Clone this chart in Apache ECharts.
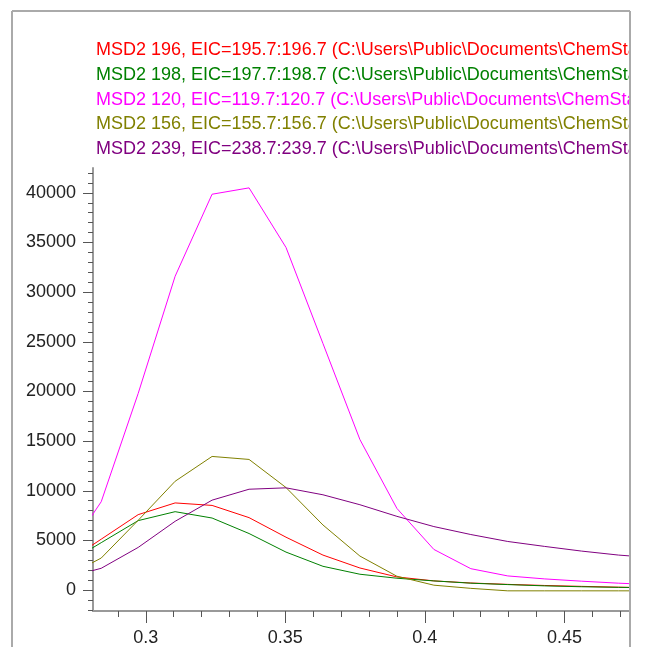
<!DOCTYPE html>
<html>
<head>
<meta charset="utf-8">
<script src="https://cdn.jsdelivr.net/npm/echarts@6/dist/echarts.min.js"></script>
<style>
html,body{margin:0;padding:0;background:#fff;}
#chart{width:646px;height:647px;}
</style>
</head>
<body>
<div id="chart"></div>
<script>
// Retention times (min) of the scans
var times = [0.27079, 0.28404, 0.29728, 0.31052, 0.32376, 0.33701, 0.35025, 0.36349, 0.37673,
             0.38998, 0.40322, 0.41646, 0.42970, 0.44295, 0.45619, 0.46943, 0.48268];

var names = [
  "MSD2 196, EIC=195.7:196.7 (C:\\Users\\Public\\Documents\\ChemStation",
  "MSD2 198, EIC=197.7:198.7 (C:\\Users\\Public\\Documents\\ChemStation",
  "MSD2 120, EIC=119.7:120.7 (C:\\Users\\Public\\Documents\\ChemStation",
  "MSD2 156, EIC=155.7:156.7 (C:\\Users\\Public\\Documents\\ChemStation",
  "MSD2 239, EIC=238.7:239.7 (C:\\Users\\Public\\Documents\\ChemStation"
];
var colors = ["#ff0000", "#008000", "#ff00ff", "#808000", "#800080"];

var eic196 = [2660, 5130, 7600, 8780, 8530, 7300, 5330, 3530, 2230, 1330, 930, 720, 580, 470, 380, 300, 240];
var eic198 = [2550, 4780, 7000, 7900, 7260, 5700, 3830, 2400, 1600, 1200, 930, 700, 560, 430, 340, 280, 230];
var eic120 = [3370, 8900, 19800, 31600, 39860, 40500, 34500, 24830, 15160, 8230, 4100, 2160, 1430, 1130, 900, 700, 550];
var eic156 = [1270, 3230, 7030, 10960, 13460, 13160, 10330, 6560, 3430, 1400, 500, 180, -70, -70, -70, -70, -70];
var eic239 = [1200, 2200, 4300, 6930, 9060, 10160, 10300, 9600, 8600, 7430, 6400, 5600, 4900, 4400, 3930, 3530, 3250];
var seriesValues = [eic196, eic198, eic120, eic156, eic239];

var yMajor = [0, 5000, 10000, 15000, 20000, 25000, 30000, 35000, 40000];
var yMinor = [];
for (var v = -2000; v <= 42000; v += 1000) yMinor.push(v);
var xMajor = [0.3, 0.35, 0.4, 0.45];
var xMinor = [0.29, 0.3, 0.31, 0.32, 0.33, 0.34, 0.35, 0.36, 0.37, 0.38, 0.39, 0.4, 0.41, 0.42, 0.43, 0.44, 0.45, 0.46, 0.47];

var FONT = "'Liberation Sans', Arial, sans-serif";

var chart = echarts.init(document.getElementById('chart'), null, {renderer: 'canvas'});

var series = seriesValues.map(function (vals, i) {
  return {
    name: names[i],
    type: 'line',
    xAxisIndex: 0,
    yAxisIndex: 0,
    data: times.map(function (t, k) { return [t, vals[k]]; }),
    showSymbol: false,
    symbol: 'none',
    clip: true,
    lineStyle: {color: colors[i], width: 1},
    itemStyle: {color: colors[i]},
    emphasis: {disabled: true}
  };
});

var option = {
  animation: false,
  backgroundColor: '#fff',
  grid: {left: 93, right: 16, top: 168, bottom: 33, containLabel: false},
  legend: {
    orient: 'vertical',
    left: 86,
    top: 33,
    itemWidth: 0,
    itemHeight: 0,
    itemGap: 0,
    icon: 'rect',
    selectedMode: false,
    data: names.map(function (n, i) {
      return {name: n, textStyle: {color: colors[i]}};
    }),
    textStyle: {fontFamily: FONT, fontSize: 18, lineHeight: 24.7}
  },
  xAxis: [{
    type: 'value',
    min: 0.2811,
    max: 0.4735,
    splitLine: {show: false},
    axisLine: {show: true, onZero: false, lineStyle: {color: '#999', width: 2}},
    axisTick: {show: true, customValues: xMajor, length: 12, lineStyle: {color: '#555', width: 1}},
    axisLabel: {show: true, customValues: xMajor, margin: 18, color: '#222', fontFamily: FONT, fontSize: 18,
                formatter: function (v) { return String(v); }}
  }, {
    type: 'value',
    position: 'bottom',
    min: 0.2811,
    max: 0.4735,
    splitLine: {show: false},
    axisLine: {show: false, onZero: false},
    axisTick: {show: true, customValues: xMinor, length: 6, lineStyle: {color: '#555', width: 1}},
    axisLabel: {show: false}
  }],
  yAxis: [{
    type: 'value',
    min: -2100,
    max: 42500,
    splitLine: {show: false},
    axisLine: {show: true, onZero: false, lineStyle: {color: '#999', width: 2}},
    axisTick: {show: true, customValues: yMajor, length: 10, lineStyle: {color: '#555', width: 1}},
    axisLabel: {show: true, customValues: yMajor, margin: 17, color: '#222', fontFamily: FONT, fontSize: 18,
                formatter: function (v) { return String(v); }}
  }, {
    type: 'value',
    position: 'left',
    min: -2100,
    max: 42500,
    splitLine: {show: false},
    axisLine: {show: false, onZero: false},
    axisTick: {show: true, customValues: yMinor, length: 5, lineStyle: {color: '#555', width: 1}},
    axisLabel: {show: false}
  }],
  graphic: [
    {type: 'rect', z: 100, shape: {x: 631, y: 0, width: 15, height: 647}, style: {fill: '#fff'}, silent: true},
    {type: 'line', z: 101, shape: {x1: 12, y1: 11, x2: 630, y2: 11}, style: {stroke: '#aaa', lineWidth: 2}, silent: true},
    {type: 'line', z: 101, shape: {x1: 12, y1: 11, x2: 12, y2: 647}, style: {stroke: '#aaa', lineWidth: 2}, silent: true},
    {type: 'line', z: 101, shape: {x1: 630, y1: 11, x2: 630, y2: 647}, style: {stroke: '#aaa', lineWidth: 2}, silent: true}
  ],
  series: series
};
chart.setOption(option);
</script>
</body>
</html>
